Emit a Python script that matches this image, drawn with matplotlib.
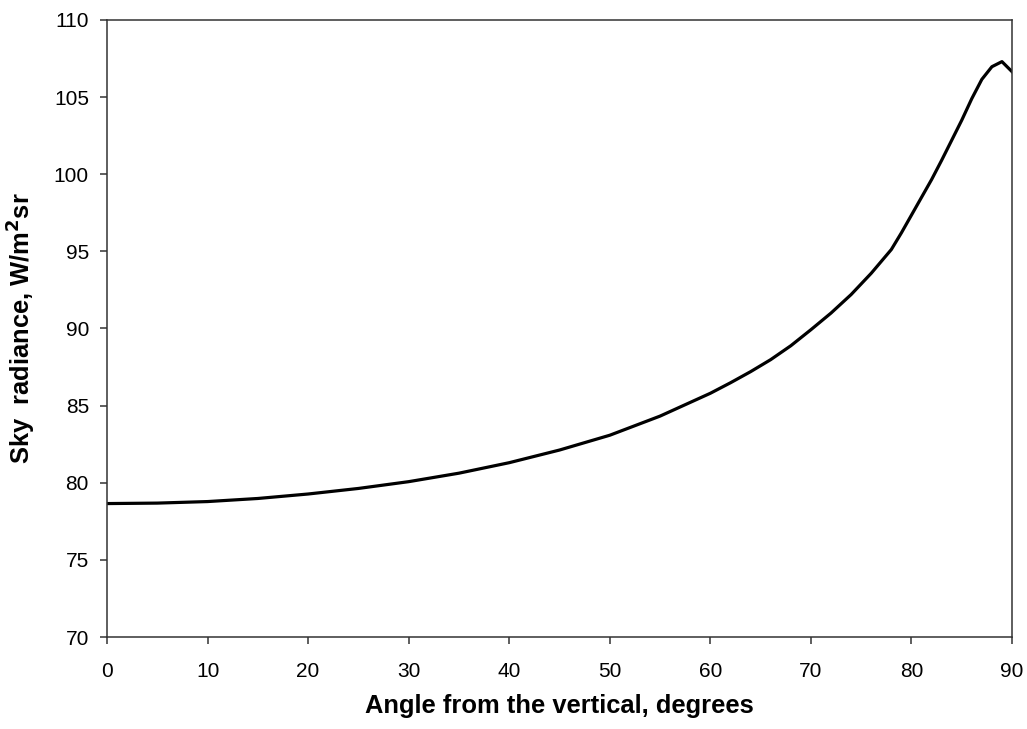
import matplotlib
matplotlib.use("Agg")
import matplotlib.pyplot as plt

# angle from the vertical (degrees) and sky radiance (W/m2 sr)
angle = [0, 5, 10, 15, 20, 25, 30, 35, 40, 45, 50, 55, 60, 62, 64, 66, 68, 70,
         72, 74, 76, 78, 79, 80, 81, 82, 83, 84, 85, 86, 87, 88, 89, 90]
radiance = [78.65, 78.68, 78.78, 78.98, 79.27, 79.63, 80.07, 80.62, 81.3, 82.12,
            83.08, 84.32, 85.8, 86.48, 87.2, 87.98, 88.88, 89.92, 91.0, 92.2,
            93.58, 95.12, 96.2, 97.35, 98.5, 99.65, 100.9, 102.2, 103.5, 104.9,
            106.15, 106.97, 107.3, 106.65]

xticks = list(range(0, 91, 10))
yticks = list(range(70, 111, 5))

plt.rcParams['font.family'] = ['Liberation Sans', 'DejaVu Sans']

fig = plt.figure(figsize=(10.27, 7.29), dpi=100)
ax = fig.add_axes([0.1042, 0.1262, 0.8812, 0.8464])

ax.plot(angle, radiance, color='black', linewidth=2.3, solid_joinstyle='round')

ax.set_xlim(0, 90)
ax.set_ylim(70, 110)
ax.set_xticks(xticks)
ax.set_yticks(yticks)

for s in ax.spines.values():
    s.set_color('#333333')
    s.set_linewidth(1.1)

ax.tick_params(axis='both', direction='out', length=5, width=1.1,
               color='#333333', labelsize=15)
ax.tick_params(axis='x', pad=13)
ax.tick_params(axis='y', pad=8)

ax.set_xlabel('Angle from the vertical, degrees', fontsize=18.4,
              fontweight='bold', labelpad=9)
ax.set_ylabel(r'Sky  radiance, W/m$^{\mathbf{2}}$sr', fontsize=18.4,
              fontweight='bold', labelpad=12)

fig.savefig('out.png', dpi=100)
